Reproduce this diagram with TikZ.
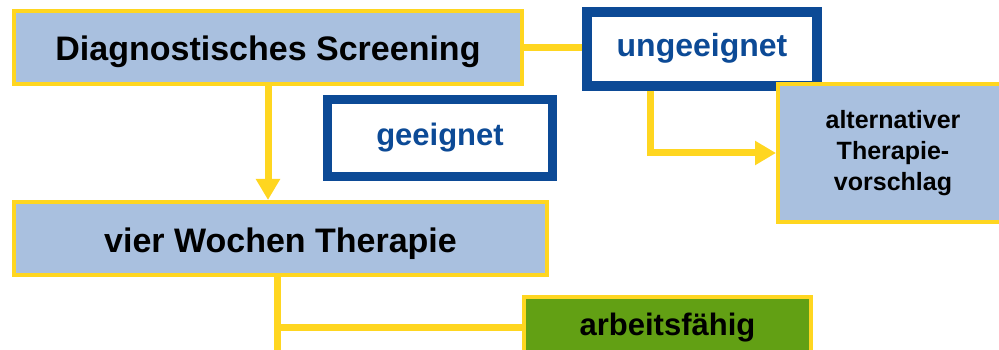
\documentclass[tikz,border=0pt]{standalone}
\usepackage{fontspec}
\setmainfont{Liberation Sans}
\usetikzlibrary{arrows.meta}
\definecolor{boxblue}{RGB}{169,192,223}
\definecolor{gold}{RGB}{255,214,32}
\definecolor{navy}{RGB}{12,74,150}
\definecolor{leaf}{RGB}{98,160,20}
\begin{document}
\begin{tikzpicture}[x=1pt,y=-1pt,
  panel/.style={draw=gold, line width=4pt, fill=boxblue, inner sep=0pt},
  bigtext/.style={font=\fontsize{34}{40}\selectfont\bfseries, text height=30pt, text depth=3pt},
  nbox/.style={draw=navy, line width=10pt, fill=white, text=navy, inner sep=0pt,
    font=\fontsize{31}{37}\selectfont\bfseries, text height=22pt, text depth=6pt},
  conn/.style={draw=gold, line width=7pt},
  arr/.style={conn, -{Triangle[width=23pt,length=21pt]}}]
\useasboundingbox (0,0) rectangle (999,350);
\fill[white] (0,0) rectangle (999,350);

\node[panel, bigtext, minimum width=508pt, minimum height=73pt] (screen) at (268,47.5) {Diagnostisches Screening};
\node[panel, bigtext, minimum width=533pt, minimum height=73pt] (therapie) at (280.5,238.5) {vier Wochen Therapie};
\node[nbox, font=\fontsize{32}{37}\selectfont\bfseries, minimum width=230pt, minimum height=74pt] (ungeeignet) at (702,49) {ungeeignet};
\node[nbox, line width=9pt, minimum width=225pt, minimum height=77pt] (geeignet) at (440,138) {geeignet};
\node[panel, align=center, minimum width=230pt, minimum height=138pt,
  font=\fontsize{25}{31}\selectfont\bfseries] (alt) at (893,153) {alternativer\\Therapie-\\vorschlag};
\node[panel, fill=leaf, font=\fontsize{31}{37}\selectfont\bfseries, text height=22pt, text depth=6pt,
  minimum width=287pt, minimum height=60pt] (arbeit) at (667.5,327) {arbeitsfähig};

\coordinate (tbot) at (277,360);

\draw[conn] (screen.east) -- (screen.east -| ungeeignet.west);
\draw[arr] (screen.south) -- (screen.south |- therapie.north);
\draw[arr] ([xshift=68pt]ungeeignet.south west) |- (alt.west);
\draw[conn] ([xshift=-3.5pt]therapie.south) -- (tbot);
\draw[conn] (arbeit.west) -- (arbeit.west -| tbot);
\end{tikzpicture}
\end{document}
